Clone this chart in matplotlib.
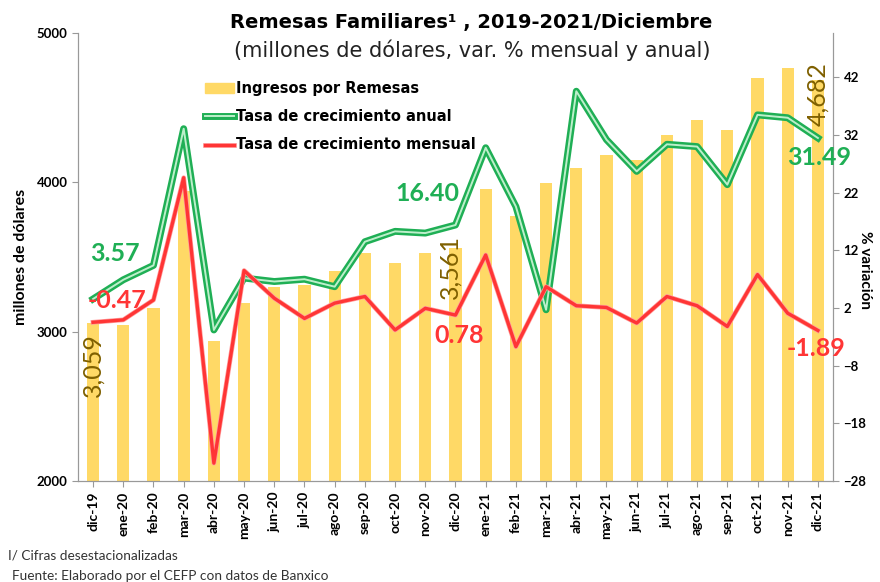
import matplotlib
matplotlib.use("Agg")
from matplotlib import pyplot as plt
import matplotlib.patheffects as pe
from matplotlib.lines import Line2D
from matplotlib.patches import Patch

plt.rcParams['font.family'] = ['Lato', 'DejaVu Sans']

# datos del grafico
meses = ['dic-19', 'ene-20', 'feb-20', 'mar-20', 'abr-20', 'may-20', 'jun-20', 'jul-20',
         'ago-20', 'sep-20', 'oct-20', 'nov-20', 'dic-20', 'ene-21', 'feb-21', 'mar-21',
         'abr-21', 'may-21', 'jun-21', 'jul-21', 'ago-21', 'sep-21', 'oct-21', 'nov-21', 'dic-21']
remesas = [3059, 3047, 3158, 3940, 2940, 3189, 3296, 3311, 3407, 3529, 3462, 3529, 3561,
           3958, 3773, 3996, 4096, 4184, 4151, 4318, 4418, 4351, 4696, 4767, 4682]
anual = [3.57, 6.9, 9.4, 33.1, -1.8, 7.2, 6.6, 7.0, 5.7, 13.5, 15.3, 15.0, 16.40,
         29.8, 19.6, 1.7, 39.6, 31.2, 25.7, 30.4, 30.0, 23.4, 35.5, 35.0, 31.49]
mensual = [-0.47, -0.05, 3.4, 24.6, -24.9, 8.5, 3.7, 0.2, 2.85, 4.0, -1.8, 1.95, 0.78,
           11.2, -4.7, 5.7, 2.4, 2.1, -0.6, 4.0, 2.4, -1.2, 7.8, 1.1, -1.89]

c_bar = '#FFD966'
c_green = '#1FAF55'
c_red = '#FF3535'
c_olive = '#7F6000'

fig = plt.figure(figsize=(8.8, 5.82), dpi=100)
ax1 = fig.add_axes([0.0886, 0.1735, 0.858, 0.7698])
ax2 = ax1.twinx()

x = list(range(len(meses)))
ax1.bar(x, remesas, width=0.4, color=c_bar)
ax1.set_ylim(2000, 5000)
ax1.set_xlim(-0.5, len(meses) - 0.5)
ax1.set_yticks([2000, 3000, 4000, 5000])
ax1.set_xticks(x)
ax1.set_xticklabels(meses, rotation=90, fontsize=10, fontweight='bold')
for t in ax1.get_yticklabels():
    t.set_fontweight('bold')
    t.set_fontsize(9.5)
ax1.set_ylabel('millones de dólares', fontsize=11.5, fontweight='bold', labelpad=6)

ax2.plot(x, anual, color='#BDEFCB', lw=1.4,
         path_effects=[pe.Stroke(linewidth=5, foreground=c_green), pe.Normal()])
ax2.plot(x, mensual, color=c_red, lw=2.4,
         path_effects=[pe.Stroke(linewidth=3.4, foreground='#FF9C9C'), pe.Normal()])
ax2.set_ylim(-28, 49.7)
ax2.set_yticks([-28, -18, -8, 2, 12, 22, 32, 42])
for t in ax2.get_yticklabels():
    t.set_fontweight('bold')
    t.set_fontsize(9.5)
ax2.set_ylabel('% variación', fontsize=11, fontweight='bold', rotation=270, labelpad=4)
ax2.yaxis.set_label_coords(1.052, 0.47)

for ax in (ax1, ax2):
    ax.spines['top'].set_visible(False)
    for s in ('left', 'right', 'bottom'):
        ax.spines[s].set_color('#999999')
    ax.tick_params(colors='#999999', labelcolor='black', length=4)

# etiquetas de valores
def etiqueta(ax, xi, yi, txt, color, dx, dy, rot=0, size=18, peso='bold'):
    ax.annotate(txt, (xi, yi), xytext=(dx, dy), textcoords='offset pixels',
                ha='center', va='center', color=color, fontsize=size, rotation=rot,
                fontweight=peso)

n = len(meses) - 1
etiqueta(ax2, 0, anual[0], f'{anual[0]:.2f}', c_green, 22, 45)
etiqueta(ax2, 0, mensual[0], f'{mensual[0]:.2f}', c_red, 24, 22)
etiqueta(ax1, 0, remesas[0], f'{remesas[0]:,}', c_olive, 0, -42, rot=90, peso='normal')
etiqueta(ax2, 12, anual[12], f'{anual[12]:.2f}', c_green, -28, 32)
etiqueta(ax2, 12, mensual[12], f'{mensual[12]:.2f}', c_red, 4, -20)
etiqueta(ax2, 12, -28 + (remesas[12] - 2000) / 3000 * 77.7, f'{remesas[12]:,}', c_olive, -5, -19,
         rot=90, peso='normal')
etiqueta(ax2, n, anual[n], f'{anual[n]:.2f}', c_green, 1, -20)
etiqueta(ax2, n, mensual[n], f'{mensual[n]:.2f}', c_red, -2, -18)
etiqueta(ax2, n, -28 + (remesas[n] - 2000) / 3000 * 77.7, f'{remesas[n]:,}', c_olive, 0, -14,
         rot=90, peso='normal')

handles = [
    Patch(color=c_bar),
    Line2D([], [], color='#BDEFCB', lw=1.4,
           path_effects=[pe.Stroke(linewidth=5, foreground=c_green), pe.Normal()]),
    Line2D([], [], color=c_red, lw=2.4,
           path_effects=[pe.Stroke(linewidth=3.4, foreground='#FF9C9C'), pe.Normal()]),
]
labels = ['Ingresos por Remesas', 'Tasa de crecimiento anual', 'Tasa de crecimiento mensual']
leg = fig.legend(handles, labels, loc='upper left', bbox_to_anchor=(0.218, 0.883),
                 frameon=False, handlelength=2.0, handleheight=0.6, handletextpad=0.12,
                 labelspacing=0.9, prop={'family': 'DejaVu Sans', 'weight': 'bold', 'size': 10.5})

fig.text(0.535, 0.962, 'Remesas Familiares¹ , 2019-2021/Diciembre',
         ha='center', va='center', fontsize=14, fontweight='bold', family='DejaVu Sans')
fig.text(0.537, 0.914, '(millones de dólares, var. % mensual y anual)',
         ha='center', va='center', fontsize=15, family='DejaVu Sans', color='#222222')
fig.text(0.009, 0.045, 'I/ Cifras desestacionalizadas', fontsize=9.8, color='#333333', va='center')
fig.text(0.014, 0.010, 'Fuente: Elaborado por el CEFP con datos de Banxico', fontsize=9.8,
         color='#333333', va='center')

fig.savefig('out.png', dpi=100)
